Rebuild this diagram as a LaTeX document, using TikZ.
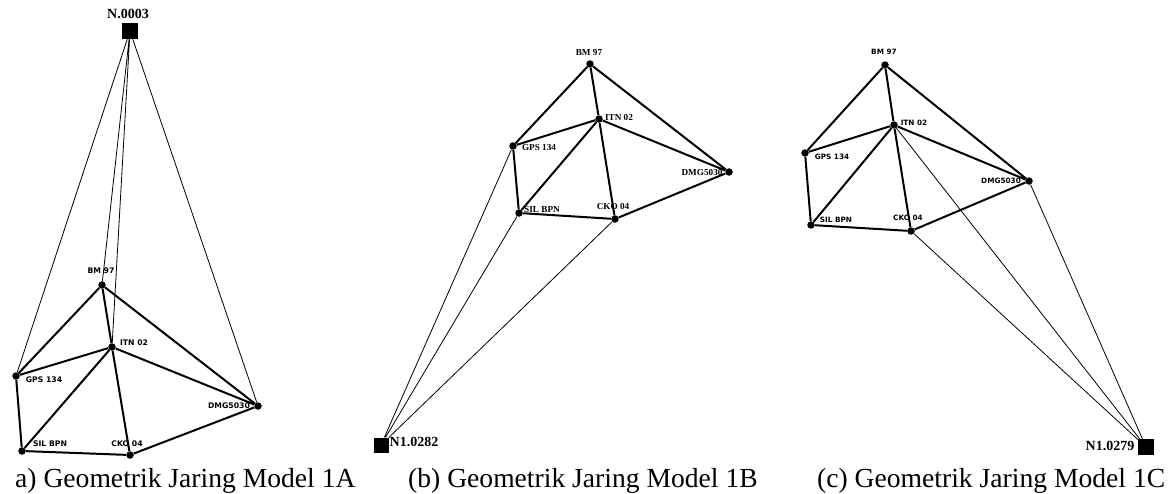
\documentclass[tikz,border=0pt]{standalone}
\usepackage{fontspec}
\setmainfont{Liberation Serif}
\newfontfamily\lblsans{DejaVu Sans}
\newfontfamily\lblserif{Liberation Serif}
\usetikzlibrary{positioning}

\begin{document}
\begin{tikzpicture}[x=1pt,y=-1pt,
  stn/.style={circle,fill=black,inner sep=0pt,minimum size=7.5pt},
  ref/.style={rectangle,fill=black,inner sep=0pt,minimum size=16pt},
  net/.style={line width=2pt,line join=round},
  obs/.style={line width=0.8pt},
  lblA/.style={font=\lblsans\bfseries\fontsize{7.7}{8}\selectfont,inner sep=0pt},
  lblB/.style={font=\lblserif\bfseries\fontsize{9.2}{10}\selectfont,inner sep=0pt},
  lblC/.style={font=\lblsans\bfseries\fontsize{7.3}{8}\selectfont,inner sep=0pt},
  lblN/.style={font=\lblserif\bfseries\fontsize{14}{15}\selectfont,inner sep=0pt},
  captext/.style={font=\fontsize{27.6}{30}\selectfont,anchor=base west,inner sep=0pt}]
\useasboundingbox (0,0) rectangle (1175,493);

% (a) model 1A
\node[ref] (nA) at (130,31) {};
\node[stn] (bmA) at (102,285) {};
\node[stn] (itnA) at (112,347) {};
\node[stn] (gpsA) at (16,376) {};
\node[stn] (dmgA) at (258,406) {};
\node[stn] (silA) at (22,451) {};
\node[stn] (ckoA) at (130,455) {};
\draw[obs] (nA) -- (gpsA) (nA) -- (bmA) (nA) -- (itnA) (nA) -- (dmgA);
\draw[net] (bmA) -- (gpsA) (bmA) -- (itnA) (bmA) -- (dmgA) (itnA) -- (gpsA)
  (itnA) -- (silA) (itnA) -- (ckoA) (itnA) -- (dmgA) (gpsA) -- (silA)
  (silA) -- (ckoA) (ckoA) -- (dmgA);
\node[lblN] (tnA) at (128,14) {N.0003};
\node[lblA] (tbmA) at (101,271) {BM 97};
\node[lblA] (titnA) at (134,343) {ITN 02};
\node[lblA] (tgpsA) at (44,380) {GPS 134};
\node[lblA] (tdmgA) at (229,406) {DMG5030};
\node[lblA] (tsilA) at (50,444) {SIL BPN};
\node[lblA] (tckoA) at (127,444) {CKO 04};
\node[captext] (capA) at (15,487) {a) Geometrik Jaring Model 1A};

% (b) model 1B
\node[ref,minimum size=15pt] (nB) at (381,445) {};
\node[stn] (bmB) at (590,64) {};
\node[stn] (itnB) at (599,119) {};
\node[stn] (gpsB) at (513,146) {};
\node[stn] (dmgB) at (729,172) {};
\node[stn] (silB) at (519,213) {};
\node[stn] (ckoB) at (615,219) {};
\draw[obs] (nB) -- (gpsB) (nB) -- (silB) (nB) -- (ckoB);
\draw[net] (bmB) -- (gpsB) (bmB) -- (itnB) (bmB) -- (dmgB) (itnB) -- (gpsB)
  (itnB) -- (silB) (itnB) -- (ckoB) (itnB) -- (dmgB) (gpsB) -- (silB)
  (silB) -- (ckoB) (ckoB) -- (dmgB);
\node[lblN] (tnB) at (414,442) {N1.0282};
\node[lblB] (tbmB) at (589,52) {BM 97};
\node[lblB] (titnB) at (619,117) {ITN 02};
\node[lblB] (tgpsB) at (539,147) {GPS 134};
\node[lblB] (tdmgB) at (702,172) {DMG5030};
\node[lblB] (tsilB) at (542,209) {SIL BPN};
\node[lblB] (tckoB) at (613,206) {CKO 04};
\node[captext] (capB) at (408,487) {(b) Geometrik Jaring Model 1B};

% (c) model 1C
\node[ref] (nC) at (1146,447) {};
\node[stn] (bmC) at (885,65) {};
\node[stn] (itnC) at (894,125) {};
\node[stn] (gpsC) at (805,153) {};
\node[stn] (dmgC) at (1029,181) {};
\node[stn] (silC) at (811,225) {};
\node[stn] (ckoC) at (911,231) {};
\draw[obs] (nC) -- (ckoC) (nC) -- (itnC) (nC) -- (dmgC);
\draw[net] (bmC) -- (gpsC) (bmC) -- (itnC) (bmC) -- (dmgC) (itnC) -- (gpsC)
  (itnC) -- (silC) (itnC) -- (ckoC) (itnC) -- (dmgC) (gpsC) -- (silC)
  (silC) -- (ckoC) (ckoC) -- (dmgC);
\node[lblN] (tnC) at (1110,446) {N1.0279};
\node[lblC] (tbmC) at (884,52) {BM 97};
\node[lblC] (titnC) at (914,123) {ITN 02};
\node[lblC] (tgpsC) at (832,157) {GPS 134};
\node[lblC] (tdmgC) at (1001,181) {DMG5030};
\node[lblC] (tsilC) at (836,220) {SIL BPN};
\node[lblC] (tckoC) at (908,218) {CKO 04};
\node[captext] (capC) at (817,487) {(c) Geometrik Jaring Model 1C};
\end{tikzpicture}
\end{document}
